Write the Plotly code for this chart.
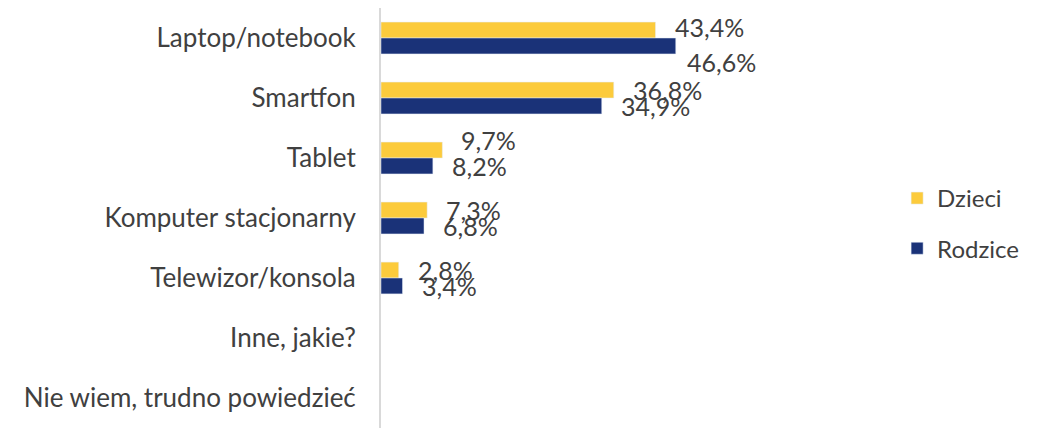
import plotly.graph_objects as go

categories = ["Laptop/notebook", "Smartfon", "Tablet", "Komputer stacjonarny",
              "Telewizor/konsola", "Inne, jakie?", "Nie wiem, trudno powiedzieć"]
dzieci = [43.4, 36.8, 9.7, 7.3, 2.8, None, None]
rodzice = [46.6, 34.9, 8.2, 6.8, 3.4, None, None]

YELLOW = "#FCCB3C"
NAVY = "#1A3278"
TXT = "#404040"
FONT = "Lato"

# manual nudges for a few labels (like dragged Excel labels): (xshift, yshift)
nudge = {("Dzieci", 0): (0, 3), ("Rodzice", 0): (-8, -16), ("Dzieci", 2): (0, 10)}

fig = go.Figure()
for name, vals, col in [("Dzieci", dzieci, YELLOW), ("Rodzice", rodzice, NAVY)]:
    fig.add_trace(go.Bar(y=categories, x=vals, name=name, orientation="h",
                         marker=dict(color=col), legendgroup=name,
                         offsetgroup=name))

# data labels, centred on each bar of the group
for name, vals, base in [("Dzieci", dzieci, 8), ("Rodzice", rodzice, -8)]:
    for i, v in enumerate(vals):
        if v is None:
            continue
        dx, dy = nudge.get((name, i), (0, 0))
        fig.add_annotation(x=v, y=categories[i], xref="x", yref="y",
                           text=f"{v:.1f}%".replace(".", ","), showarrow=False,
                           xanchor="left", yanchor="middle",
                           xshift=17 + dx, yshift=base + dy,
                           font=dict(family=FONT, size=25, color=TXT))

fig.update_layout(
    width=1040, height=420,
    margin=dict(l=373, r=161, t=0, b=0),
    paper_bgcolor="white", plot_bgcolor="white",
    barmode="group", bargap=0.47, bargroupgap=0,
    font=dict(family=FONT, size=25, color=TXT),
    showlegend=True,
    legend=dict(x=1.02, y=0.487, xanchor="left", yanchor="middle",
                traceorder="grouped", tracegroupgap=16,
                font=dict(family=FONT, size=24, color=TXT), itemwidth=30),
)
fig.update_xaxes(range=[0, 80], visible=False, showgrid=False, zeroline=False)
fig.update_yaxes(range=[6.5, -0.5], automargin=False, showline=True,
                 linecolor="#D9D9D9", linewidth=2, ticks="",
                 ticklabelstandoff=18, showgrid=False,
                 tickfont=dict(family=FONT, size=26, color=TXT))

fig.write_html("out.html")
